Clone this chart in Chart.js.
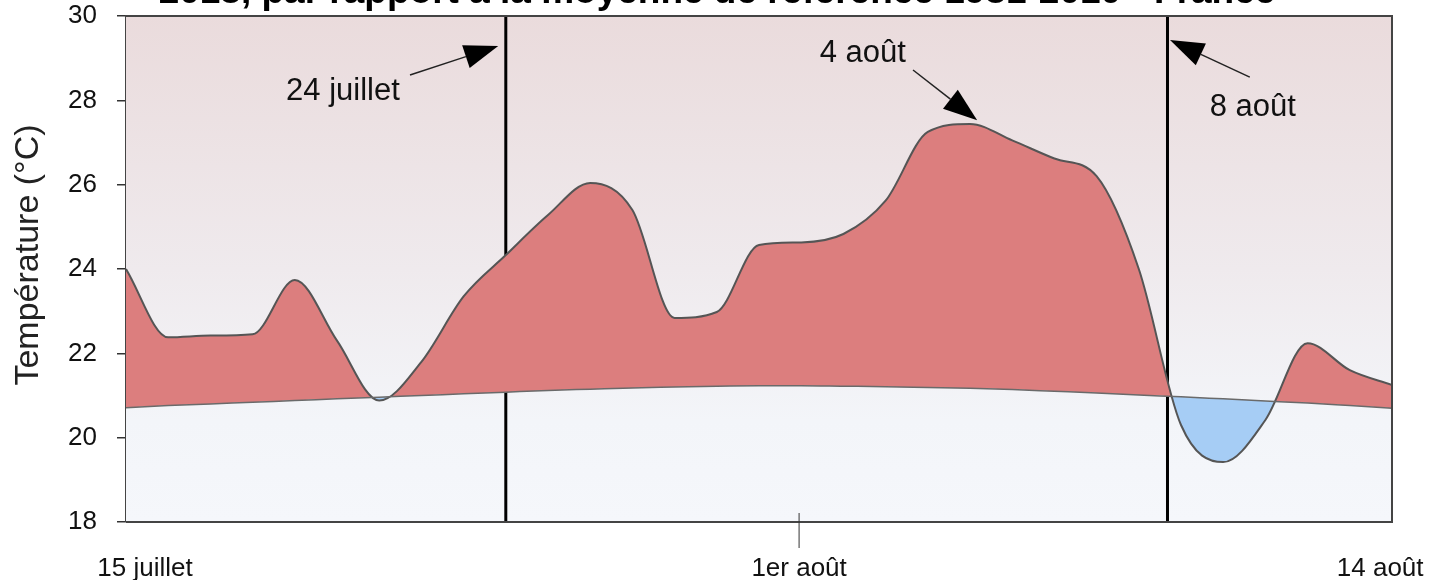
<!DOCTYPE html>
<html>
<head>
<meta charset="utf-8">
<script src="https://cdn.jsdelivr.net/npm/chart.js@4.4.1/dist/chart.umd.min.js"></script>
<style>
  html, body { margin: 0; padding: 0; background: #fff; }
  #wrap { width: 1429px; height: 580px; }
</style>
</head>
<body>
<div id="wrap"><canvas id="temp_chart" width="1429" height="580"></canvas></div>
<script>
// D O N N E E S
// jours depuis le 15 juillet
const days = [0, 1, 2, 3, 4, 5, 6, 7, 8, 9, 10, 11, 12, 13, 14, 15, 16, 17, 18, 19, 20, 21, 22, 23, 24, 25, 26, 27, 28, 29, 30];
// température moyenne observée 2018 (°C)
const temperatures = [24.0, 22.38, 22.42, 22.45, 23.74, 22.3, 20.88, 21.8, 23.35, 24.33, 25.28, 26.04, 25.4, 22.84, 22.98, 24.57,
    24.63, 24.83, 25.62, 27.25, 27.44, 27.05, 26.62, 26.2, 24.0, 20.3, 19.42, 20.42, 22.24, 21.6, 21.25];
// moyenne de référence 1981-2010 (°C)
const normals = [20.71, 20.76, 20.80, 20.84, 20.88, 20.92, 20.96, 21.00, 21.04, 21.08, 21.12, 21.15, 21.18, 21.20, 21.22, 21.23,
    21.23, 21.22, 21.21, 21.19, 21.17, 21.14, 21.10, 21.06, 21.01, 20.97, 20.92, 20.87, 20.82, 20.76, 20.70];
// repères verticaux (jours)
const markers = [9, 24.68];
// axes
const y_ticks = [18, 20, 22, 24, 26, 28, 30];
const x_tick_values = [0.45, 15.95, 29.72];
const x_tick_labels = ['15 juillet', '1er août', '14 août'];
const x_mark = 15.95;
const title_text = '2018, par rapport à la moyenne de référence 1981-2010 - France';
const y_title = 'Température (°C)';
// annotations : texte, position du texte, queue et pointe de la flèche (jour, °C)
const notes = [
    { text: '24 juillet', at: [5.14, 28.2], from: [6.73, 28.6], to: [8.82, 29.29] },
    { text: '4 août', at: [17.46, 29.12], from: [18.65, 28.72], to: [20.17, 27.53] },
    { text: '8 août', at: [26.7, 27.84], from: [26.63, 28.55], to: [24.74, 29.43] }
];

const FONT = "'Liberation Sans', Arial, sans-serif";

// fond dégradé + cadre + titres + flèches
const decor = {
    id: 'decor',
    beforeDatasetsDraw(chart) {
        const { ctx, chartArea: a } = chart;
        const g = ctx.createLinearGradient(0, a.top, 0, a.bottom);
        g.addColorStop(0, '#eadbdc');
        g.addColorStop(0.5, '#efeaed');
        g.addColorStop(0.8, '#f3f5f9');
        g.addColorStop(1, '#f5f7fb');
        ctx.save();
        ctx.fillStyle = g;
        ctx.fillRect(a.left, a.top, a.right - a.left, a.bottom - a.top);
        ctx.restore();
    },
    afterDatasetsDraw(chart) {
        const { ctx, chartArea: a, scales } = chart;
        const px = v => scales.x.getPixelForValue(v);
        const py = v => scales.y.getPixelForValue(v);
        ctx.save();
        // cadre
        ctx.strokeStyle = '#444';
        ctx.lineWidth = 2;
        ctx.beginPath();
        ctx.moveTo(a.left, a.top);
        ctx.lineTo(a.right, a.top);
        ctx.lineTo(a.right, a.bottom);
        ctx.lineTo(a.left, a.bottom);
        ctx.stroke();
        // petite graduation "1er août"
        ctx.lineWidth = 1;
        ctx.strokeStyle = '#333';
        ctx.beginPath();
        ctx.moveTo(px(x_mark), a.bottom - 9);
        ctx.lineTo(px(x_mark), a.bottom + 26);
        ctx.stroke();
        // flèches
        notes.forEach(n => {
            const x1 = px(n.from[0]), y1 = py(n.from[1]);
            const x2 = px(n.to[0]), y2 = py(n.to[1]);
            const ang = Math.atan2(y2 - y1, x2 - x1);
            const len = 34, half = 12;
            const bx = x2 - len * Math.cos(ang), by = y2 - len * Math.sin(ang);
            ctx.strokeStyle = '#222';
            ctx.lineWidth = 1.5;
            ctx.beginPath();
            ctx.moveTo(x1, y1);
            ctx.lineTo(bx, by);
            ctx.stroke();
            ctx.fillStyle = '#000';
            ctx.beginPath();
            ctx.moveTo(x2, y2);
            ctx.lineTo(bx + half * Math.sin(ang), by - half * Math.cos(ang));
            ctx.lineTo(bx - half * Math.sin(ang), by + half * Math.cos(ang));
            ctx.closePath();
            ctx.fill();
            ctx.font = '31px ' + FONT;
            ctx.fillStyle = '#111';
            ctx.textAlign = 'center';
            ctx.textBaseline = 'middle';
            ctx.fillText(n.text, px(n.at[0]), py(n.at[1]));
        });
        // titre (coupé en haut)
        ctx.font = 'bold 37px ' + FONT;
        ctx.fillStyle = '#000';
        ctx.textAlign = 'center';
        ctx.textBaseline = 'alphabetic';
        ctx.fillText(title_text, 717, 3);
        // titre axe Y
        ctx.translate(29, 255);
        ctx.rotate(-Math.PI / 2);
        ctx.font = '34px ' + FONT;
        ctx.fillStyle = '#222';
        ctx.textBaseline = 'middle';
        ctx.fillText(y_title, 0, 0);
        ctx.restore();
    }
};

const marker_sets = markers.map(m => ({
    data: [{ x: m, y: 18 }, { x: m, y: 30 }],
    borderColor: '#000',
    borderWidth: 3,
    pointRadius: 0,
    fill: false
}));

new Chart(document.getElementById('temp_chart'), {
    type: 'line',
    data: {
        datasets: [
            {
                label: 'Moyenne 1981-2010',
                data: days.map((d, i) => ({ x: d, y: normals[i] })),
                borderColor: '#6a6a6a',
                borderWidth: 1.5,
                pointRadius: 0,
                cubicInterpolationMode: 'monotone',
                fill: false
            },
            {
                label: '2018',
                data: days.map((d, i) => ({ x: d, y: temperatures[i] })),
                borderColor: '#555',
                borderWidth: 2,
                pointRadius: 0,
                cubicInterpolationMode: 'monotone',
                fill: { target: 0, above: 'rgb(220,126,126)', below: 'rgb(166,205,245)' }
            },
            ...marker_sets
        ]
    },
    options: {
        responsive: false,
        animation: false,
        layout: { padding: { top: 16, right: 37, left: 0, bottom: 0 } },
        plugins: {
            legend: { display: false },
            tooltip: { enabled: false }
        },
        scales: {
            x: {
                type: 'linear',
                min: 0,
                max: 30,
                grid: { display: false },
                border: { display: false },
                afterFit: s => {
                    s.height = 58;
                    s.paddingLeft = 0;
                    s.paddingRight = 0;
                },
                afterBuildTicks: s => { s.ticks = x_tick_values.map(v => ({ value: v })); },
                ticks: {
                    autoSkip: false,
                    maxRotation: 0,
                    padding: 23,
                    color: '#111',
                    font: { family: FONT, size: 26 },
                    callback: (v, i) => x_tick_labels[i]
                }
            },
            y: {
                min: 18,
                max: 30,
                afterFit: s => {
                    s.width = 126;
                    s.paddingTop = 0;
                    s.paddingBottom = 0;
                },
                afterBuildTicks: s => { s.ticks = y_ticks.map(v => ({ value: v })); },
                grid: { drawOnChartArea: false, tickLength: 9, color: '#333', lineWidth: 1.5 },
                border: { display: true, color: '#444', width: 2 },
                ticks: {
                    padding: 20,
                    color: '#111',
                    font: { family: FONT, size: 26 }
                }
            }
        }
    },
    plugins: [decor]
});
</script>
</body>
</html>
